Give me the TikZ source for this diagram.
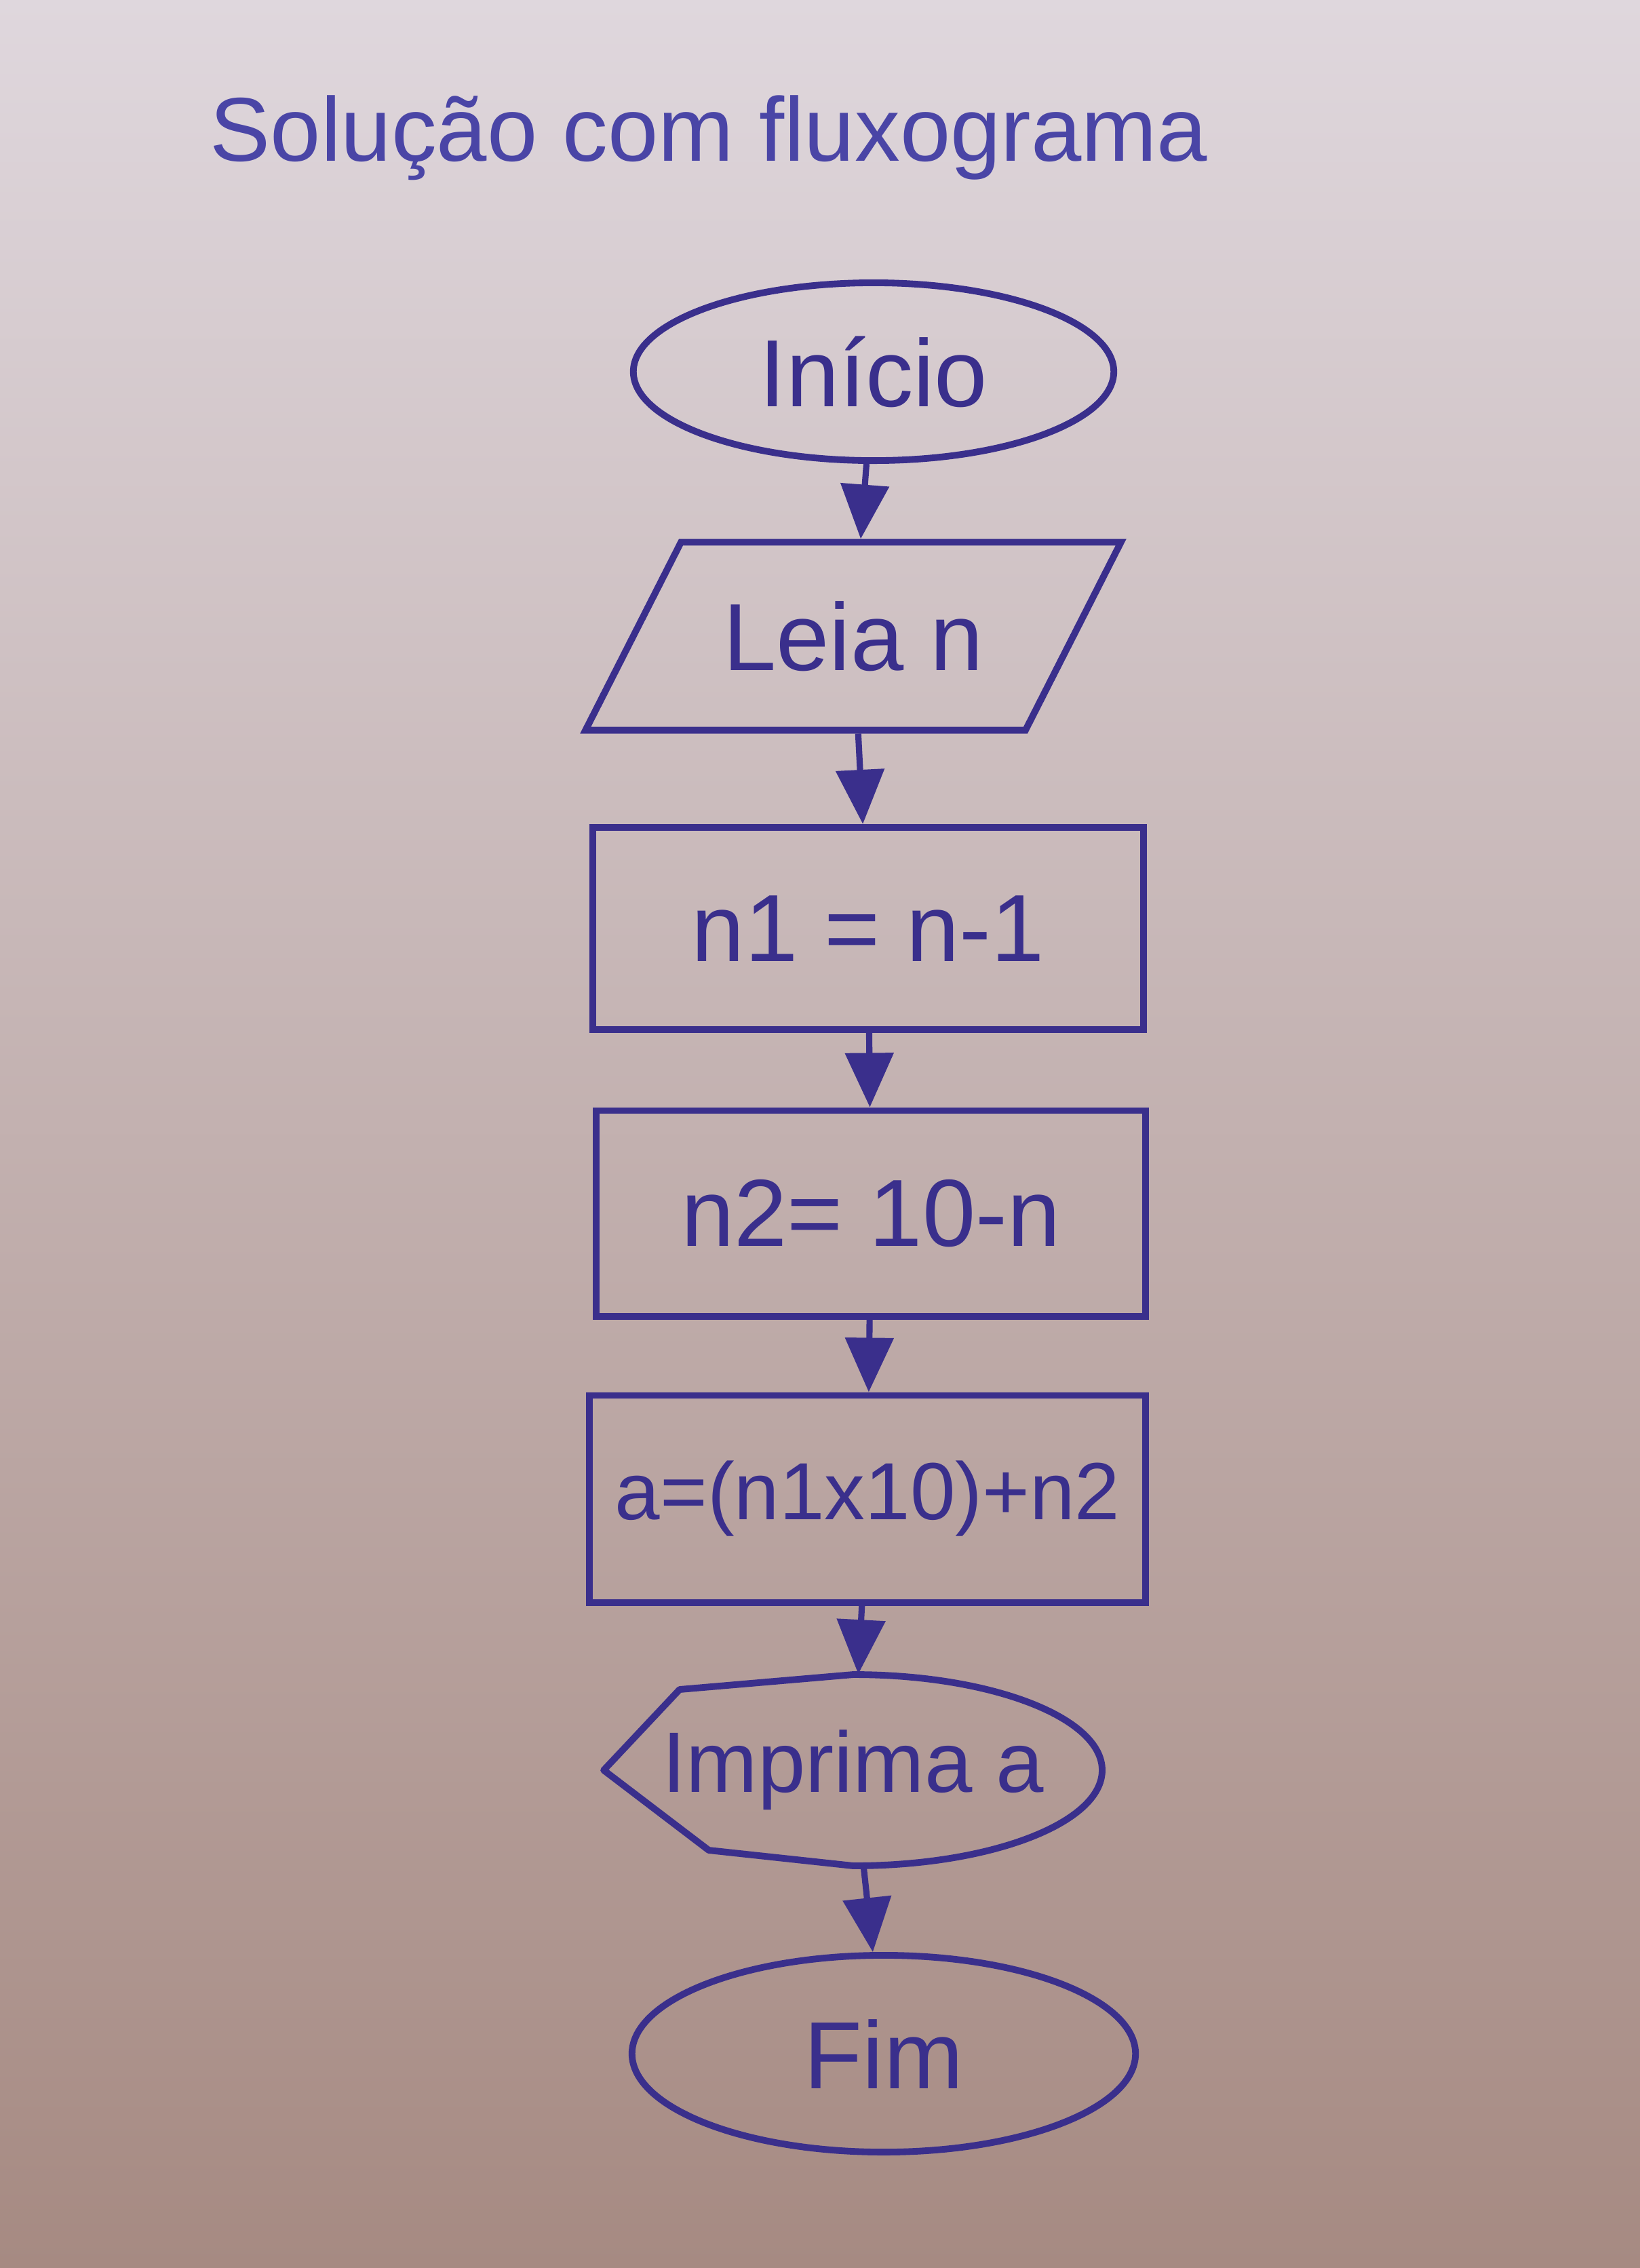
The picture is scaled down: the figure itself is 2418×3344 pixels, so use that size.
\documentclass[tikz,border=0pt]{standalone}
\usepackage{fontspec}
\setmainfont{Liberation Sans}
\usetikzlibrary{arrows.meta,shapes.geometric}
\definecolor{tinta}{HTML}{3A2F8C}
\definecolor{tintaclara}{HTML}{4A45A6}
\definecolor{papeltopo}{HTML}{DFD7DD}
\definecolor{papelmeio}{HTML}{C9AFA6}
\definecolor{papelbase}{HTML}{A68A82}

\begin{document}
\begin{tikzpicture}[x=0.01cm,y=-0.01cm,
    every node/.style={text=tinta,font=\fontsize{40}{48}\selectfont},
    terminal/.style={ellipse,draw=tinta,line width=2.8pt},
    entrada/.style={trapezium,trapezium left angle=42,trapezium right angle=138,
        trapezium stretches body,draw=tinta,line width=2.8pt},
    processo/.style={rectangle,draw=tinta,line width=2.8pt},
    seta/.style={draw=tinta,line width=2.6pt,-{Triangle[length=0.8cm,width=0.7cm]}}]
                        \useasboundingbox (0,0) rectangle (2418,3344);
                        \shade[top color=papeltopo,middle color=papelmeio,bottom color=papelbase] (0,0) rectangle (2418,3344);

                        \node[font=\fontsize{38}{44}\selectfont,text=tintaclara] (titulo) at (1045,203) {Solução com fluxograma};

                        \node[terminal,minimum width=7.08cm,minimum height=2.62cm] (inicio) at (1288,548) {Início};
                        \node[entrada,minimum width=7.89cm,minimum height=2.77cm] (leia) at (1258,938) {Leia n};
                        \node[processo,minimum width=8.11cm,minimum height=2.98cm] (calc1) at (1280,1369) {n1 = n-1};
                        \node[processo,minimum width=8.10cm,minimum height=3.03cm] (calc2) at (1284,1789) {n2= 10-n};
                        \node[processo,minimum width=8.19cm,minimum height=3.05cm,font=\fontsize{34}{40}\selectfont] (calc3) at (1279,2210) {a=(n1x10)+n2};
                        \node[minimum width=7.34cm,minimum height=2.82cm,font=\fontsize{36}{44}\selectfont] (imprima) at (1258,2610) {Imprima a};
                        \node[terminal,minimum width=7.42cm,minimum height=2.9cm] (fim) at (1303,3028) {Fim};

                        % forma de saida
                        \draw[tinta,line width=2.8pt,line join=round] (imprima.west) -- (1002,2491) -- (1258,2469)
                            arc[start angle=-90,end angle=90,x radius=367,y radius=141] -- (1045,2728) -- cycle;

                        \draw[seta] (inicio)--(leia);
                        \draw[seta] (leia)--(calc1);
                        \draw[seta] (calc1)--(calc2);
                        \draw[seta] (calc2)--(calc3);
                        \draw[seta] (calc3)--(imprima);
                        \draw[seta] (imprima)--(fim);
        \end{tikzpicture}
\end{document}
